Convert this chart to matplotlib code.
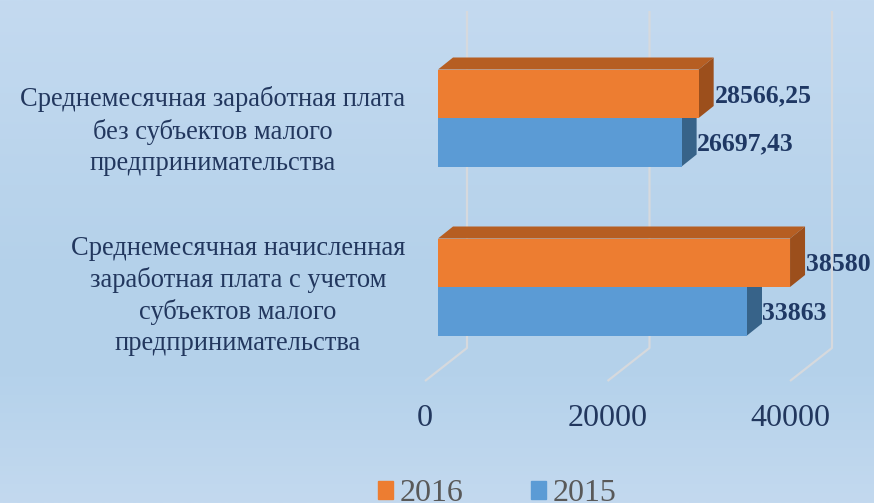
import numpy as np
import matplotlib
matplotlib.use("Agg")
import matplotlib.pyplot as plt
from matplotlib.patches import Polygon, Patch

# ---- data ----
categories = [
    "Среднемесячная начисленная\nзаработная плата с учетом\nсубъектов малого\nпредпринимательства",
    "Среднемесячная заработная плата\nбез субъектов малого\nпредпринимательства",
]
vals_2015 = [33863, 26697.43]
vals_2016 = [38580, 28566.25]
labels_2015 = ["33863", "26697,43"]
labels_2016 = ["38580", "28566,25"]
series_names = ["2016", "2015"]
xticks = [0, 20000, 40000]

W, H = 874, 503
PX = 0.009125          # pixels per value unit
X0 = 438               # pixel of value 0 on the front plane
YC0, YSTEP = 287, 169  # pixel of first category centre, spacing

C_OR, C_OR_TOP, C_OR_SIDE = "#ED7D31", "#B65E22", "#9C4F1C"
C_BL, C_BL_TOP, C_BL_SIDE = "#5B9BD5", "#41719C", "#376389"
TXT = "#22375E"

def py(p):
    # pixel y -> category units
    return (YC0 - p) / YSTEP

fig = plt.figure(figsize=(W / 100, H / 100), dpi=100)
ax = fig.add_axes([0, 0, 1, 1])
ax.set_xlim(-X0 / PX, (W - X0) / PX)
ax.set_ylim(py(H), py(0))
ax.axis("off")

# background gradient (light -> darker in the middle -> light)
stops = np.array([0, 0.55, 0.75, 1.0])
cols = np.array([[0xC4, 0xDA, 0xF0], [0xB4, 0xD1, 0xEA], [0xB5, 0xD2, 0xEB], [0xC3, 0xD9, 0xEF]]) / 255
t = np.linspace(0, 1, 256)
grad = np.stack([np.interp(t, stops, cols[:, k]) for k in range(3)], axis=1)[:, None, :]
ax.imshow(grad, extent=[ax.get_xlim()[0], ax.get_xlim()[1], py(H), py(0)],
          aspect="auto", origin="upper", zorder=0)

# 3d gridlines (back wall + floor)
back = 29 / PX
front = -13 / PX
for v in xticks:
    ax.plot([v + back, v + back, v + front], [py(11), py(348), py(381)],
            color="#D6D9DD", lw=1.6, zorder=1, solid_capstyle="butt")
    ax.text(v + front, py(419), f"{v}", ha="center", va="center",
            fontsize=23, family="Liberation Serif", color=TXT)

h = 48.5 / YSTEP
dx = 15 / PX
dy = 12 / YSTEP
pos = np.arange(len(categories))

def faces(v, y0, y1, top, side):
    ax.add_patch(Polygon([(0, y1), (v, y1), (v + dx, y1 + dy), (dx, y1 + dy)],
                         closed=True, fc=top, ec="none", zorder=2))
    ax.add_patch(Polygon([(v, y0), (v, y1), (v + dx, y1 + dy), (v + dx, y0 + dy)],
                         closed=True, fc=side, ec="none", zorder=2))

for i in pos:
    faces(vals_2015[i], i - h, i, C_BL_TOP, C_BL_SIDE)
ax.barh(pos - h / 2, vals_2015, height=h, color=C_BL, zorder=3)
for i in pos:
    faces(vals_2016[i], i, i + h, C_OR_TOP, C_OR_SIDE)
ax.barh(pos + h / 2, vals_2016, height=h, color=C_OR, zorder=4)

# value labels
for i in pos:
    ax.text(vals_2016[i] + dx + 1 / PX, i + h / 2 - 2 / YSTEP, labels_2016[i],
            ha="left", va="center", fontsize=18.5, fontweight="bold",
            family="Liberation Serif", color="#1F3864", zorder=5)
    ax.text(vals_2015[i] + dx, i - h / 2 - 2 / YSTEP, labels_2015[i],
            ha="left", va="center", fontsize=18.5, fontweight="bold",
            family="Liberation Serif", color="#1F3864", zorder=5)

# category labels
lab_y = [296, 131]
lab_x = [405, 405]
for i, c in enumerate(categories):
    ax.text((lab_x[i] - X0) / PX, py(lab_y[i]), c, ha="right", va="center",
            multialignment="center", fontsize=19.1, linespacing=1.32,
            family="Liberation Serif", color=TXT)

# legend
handles = [Patch(color=C_OR), Patch(color=C_BL)]
leg = fig.legend(handles, series_names, ncol=2, frameon=False, loc="center",
                 bbox_to_anchor=(0.5687, 0.018), handlelength=0.47,
                 handleheight=0.47, handletextpad=0.22, columnspacing=2.1,
                 prop={"family": "Liberation Serif", "size": 23})
for txt in leg.get_texts():
    txt.set_color("#595959")

fig.savefig("out.png", dpi=100)
